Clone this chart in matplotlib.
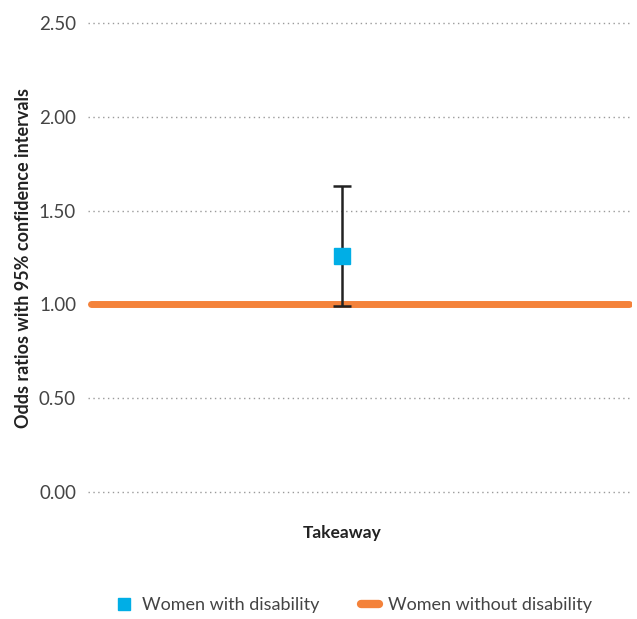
import matplotlib.pyplot as plt
from matplotlib.lines import Line2D

# data
category = ["Takeaway"]
odds_ratio = [1.26]
ci_low = [0.99]
ci_high = [1.63]
reference = 1.00
yticks = [0.0, 0.5, 1.0, 1.5, 2.0, 2.5]
series_labels = ["Women with disability", "Women without disability"]

blue = "#00aee6"
orange = "#f4823a"

plt.rcParams['font.family'] = ['Lato', 'DejaVu Sans']

fig = plt.figure(figsize=(6.37, 6.19), dpi=100)
ax = fig.add_axes([0.138, 0.205, 0.854, 0.758])

x_pos = [0.467]
ax.set_xlim(0, 1)
ax.set_ylim(0, 2.5)

for y in yticks:
    ax.axhline(y, color="#9a9a9a", lw=1.0, ls=(0, (1, 2.5)), zorder=0,
               clip_on=False)

# reference line (women without disability)
ax.plot([0.006, 0.994], [reference, reference], color=orange, lw=5,
        solid_capstyle="round", zorder=2)

err = [[o - l for o, l in zip(odds_ratio, ci_low)],
       [h - o for o, h in zip(odds_ratio, ci_high)]]
ax.errorbar(x_pos, odds_ratio, yerr=err, fmt="none", ecolor="#222222",
            elinewidth=1.8, capsize=6.5, capthick=1.8, zorder=3)
ax.plot(x_pos, odds_ratio, ls="none", marker="s", ms=11, color=blue,
        zorder=4)

ax.set_yticks(yticks)
ax.set_yticklabels([f"{v:.2f}" for v in yticks], fontsize=13.5,
                   color="#444444")
ax.set_xticks(x_pos)
ax.set_xticklabels(category, fontsize=12.5, fontweight="bold", color="#222222")
ax.tick_params(axis="y", length=0, pad=8.5)
ax.tick_params(axis="x", length=0, pad=24)
for s in ax.spines.values():
    s.set_visible(False)

ax.set_ylabel("Odds ratios with 95% confidence intervals", fontsize=13,
              fontweight="bold", color="#222222", labelpad=5)

handles = [
    Line2D([], [], ls="none", marker="s", ms=9, color=blue),
    Line2D([], [], color=orange, lw=6, solid_capstyle="round"),
]
fig.legend(handles, series_labels, loc="center", bbox_to_anchor=(0.555, 0.022),
           ncol=2, frameon=False, handlelength=1.0, handletextpad=0.5,
           columnspacing=2.3, labelcolor="#444444", prop={"size": 13})

fig.savefig("out.png", dpi=100)
